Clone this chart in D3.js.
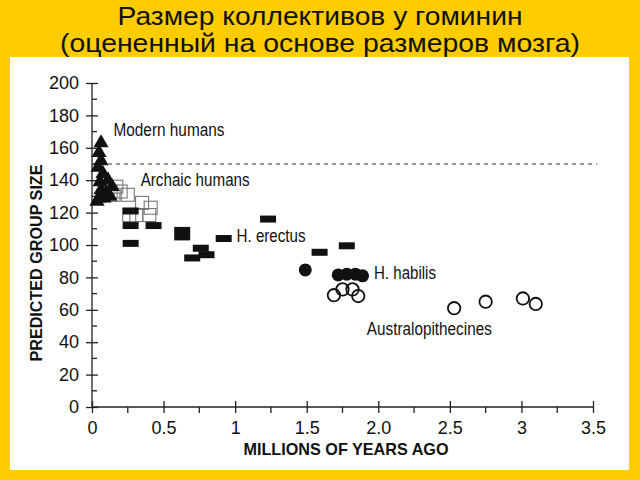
<!DOCTYPE html>
<html><head><meta charset="utf-8">
<script src="https://cdn.jsdelivr.net/npm/d3@7"></script>
<style>html,body{margin:0;padding:0;background:#FFCC00;}svg{display:block;}</style>
</head><body>
<svg id="chart" width="640" height="480"></svg>
<script>
// Data (millions of years ago, predicted group size)
const titleLines = ["Размер коллективов у гоминин", "(оцененный на основе размеров мозга)"];
const titleWidths = [405, 520];
const xTickValues = [0, 0.5, 1, 1.5, 2, 2.5, 3, 3.5];
const xTickLabels = ["0", "0.5", "1", "1.5", "2.0", "2.5", "3", "3.5"];
const yTickValues = [0, 20, 40, 60, 80, 100, 120, 140, 160, 180, 200];
const modernHumans = [[0.063,163],[0.049,157],[0.063,152],[0.042,148],[0.077,144],[0.056,139],[0.112,140],[0.14,136],[0.063,134],[0.098,132],[0.049,129],[0.084,129],[0.126,130],[0.035,127]];
const archaicHumans = [[0.13,133],[0.15,131],[0.17,136],[0.20,133],[0.25,131],[0.35,126],[0.41,123],[0.26,118.5],[0.31,118.5],[0.40,118.5]];
const hErectus = [[0.27,121],[0.27,112],[0.27,101],[0.43,112],[0.63,109],[0.63,105],[0.76,98],[0.70,92],[0.80,94],[0.92,104],[1.23,116],[1.59,95.5],[1.78,99.5]];
const hHabilis = [[1.49,84.6],[1.72,81.5],[1.78,82],[1.84,82],[1.89,81]];
const australopithecines = [[1.69,69],[1.75,72.6],[1.82,72.6],[1.86,68.5],[2.53,61],[2.75,65],[3.01,67],[3.10,63.6]];
const referenceLevel = 150;
const groupLabels = [
  {text:"Modern humans", x:0.15, y:167, w:111},
  {text:"Archaic humans", x:0.34, y:136.4, w:109},
  {text:"H. erectus", x:1.01, y:102, w:69},
  {text:"H. habilis", x:1.97, y:79, w:62},
  {text:"Australopithecines", x:1.92, y:44.4, w:125}
];

const svg = d3.select("#chart");
svg.append("rect").attr("x",0).attr("y",0).attr("width",640).attr("height",480).attr("fill","#FFCC00");
svg.append("rect").attr("x",10).attr("y",57).attr("width",619).attr("height",413).attr("fill","#ffffff");

svg.selectAll("text.title").data(titleLines).enter().append("text")
  .attr("class","title").attr("x",320).attr("y",(d,i)=>25+i*27)
  .attr("text-anchor","middle").attr("font-family","Liberation Sans, Arial, sans-serif")
  .attr("font-size",25).attr("textLength",(d,i)=>titleWidths[i]).attr("lengthAdjust","spacingAndGlyphs")
  .attr("fill","#111").text(d=>d);

const x = d3.scaleLinear().domain([0,3.5]).range([92,593]);
const y = d3.scaleLinear().domain([0,200]).range([407,83]);

const font = "Liberation Sans, Arial, sans-serif";

// axes
const g = svg.append("g");
const xAxis = d3.axisBottom(x).tickValues(xTickValues).tickFormat((d,i)=>xTickLabels[i]).tickSize(6).tickPadding(8);
const gx = g.append("g").attr("transform",`translate(0,${y(0)})`).call(xAxis);
gx.select(".domain").attr("d",`M${x(0)},0H${x(3.5)}`).attr("stroke","#222").attr("stroke-width",1.3);
gx.selectAll(".tick line").attr("y1",-6).attr("y2",6).attr("stroke","#222").attr("stroke-width",1.3);
gx.selectAll(".tick text").attr("font-family",font).attr("font-size",18).attr("fill","#111");
const xMinor = d3.range(0.25,3.5,0.5);
gx.selectAll(".minor").data(xMinor).enter().append("line").attr("class","minor")
  .attr("x1",d=>x(d)).attr("x2",d=>x(d)).attr("y1",0).attr("y2",6).attr("stroke","#222").attr("stroke-width",1.3);

const yAxis = d3.axisLeft(y).tickValues(yTickValues).tickSize(6).tickPadding(7);
const gy = g.append("g").attr("transform",`translate(${x(0)},0)`).call(yAxis);
gy.select(".domain").attr("d",`M0,${y(0)}V${y(200)}`).attr("stroke","#222").attr("stroke-width",1.3);
gy.selectAll(".tick line").attr("x1",-6).attr("x2",6).attr("stroke","#222").attr("stroke-width",1.3);
gy.selectAll(".tick text").attr("font-family",font).attr("font-size",18).attr("fill","#111");
const yMinor = d3.range(10,200,20);
gy.selectAll(".minor").data(yMinor).enter().append("line").attr("class","minor")
  .attr("x1",0).attr("x2",5).attr("y1",d=>y(d)).attr("y2",d=>y(d)).attr("stroke","#222").attr("stroke-width",1.3);

// axis titles
svg.append("text").attr("transform",`translate(42,${263}) rotate(-90)`).attr("text-anchor","middle")
  .attr("font-family",font).attr("font-weight","bold").attr("font-size",17)
  .attr("textLength",197).attr("lengthAdjust","spacingAndGlyphs").attr("fill","#111").text("PREDICTED GROUP SIZE");
svg.append("text").attr("x",346).attr("y",455).attr("text-anchor","middle")
  .attr("font-family",font).attr("font-weight","bold").attr("font-size",17)
  .attr("textLength",205).attr("lengthAdjust","spacingAndGlyphs").attr("fill","#111").text("MILLIONS OF YEARS AGO");

// reference dashed line
svg.append("line").attr("x1",x(0)).attr("x2",x(3.53)).attr("y1",y(referenceLevel)).attr("y2",y(referenceLevel))
  .attr("stroke","#333").attr("stroke-width",1.2).attr("stroke-dasharray","4,4");

// markers
const pts = svg.append("g");
pts.selectAll("rect.arch").data(archaicHumans).enter().append("rect").attr("class","arch")
  .attr("x",d=>x(d[0])-6.5).attr("y",d=>y(d[1])-6.5).attr("width",13).attr("height",13)
  .attr("fill","none").attr("stroke","#777").attr("stroke-width",1.1);
pts.selectAll("rect.erect").data(hErectus).enter().append("rect").attr("class","erect")
  .attr("x",d=>x(d[0])-8).attr("y",d=>y(d[1])-3.5).attr("width",16).attr("height",7).attr("fill","#111");
pts.selectAll("path.mod").data(modernHumans).enter().append("path").attr("class","mod")
  .attr("d",d3.symbol(d3.symbolTriangle,100)).attr("transform",d=>`translate(${x(d[0])},${y(d[1])})`).attr("fill","#111");
pts.selectAll("circle.hab").data(hHabilis).enter().append("circle").attr("class","hab")
  .attr("cx",d=>x(d[0])).attr("cy",d=>y(d[1])).attr("r",6.5).attr("fill","#111");
pts.selectAll("circle.aus").data(australopithecines).enter().append("circle").attr("class","aus")
  .attr("cx",d=>x(d[0])).attr("cy",d=>y(d[1])).attr("r",6.2).attr("fill","none").attr("stroke","#111").attr("stroke-width",1.8);

svg.selectAll("text.lbl").data(groupLabels).enter().append("text").attr("class","lbl")
  .attr("x",d=>x(d.x)).attr("y",d=>y(d.y)).attr("font-family",font).attr("font-size",17.5)
  .attr("textLength",d=>d.w).attr("lengthAdjust","spacingAndGlyphs").attr("fill","#111").text(d=>d.text);
</script>
</body></html>
